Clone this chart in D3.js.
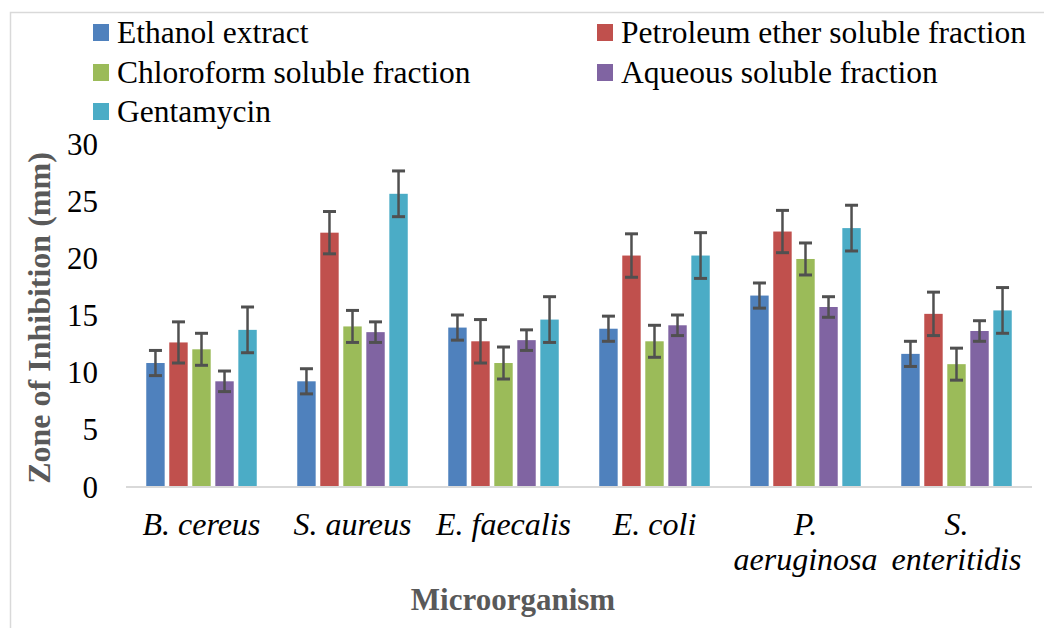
<!DOCTYPE html>
<html lang="en">
    <head>
        <meta charset="utf-8">
        <title>Zone of Inhibition</title>
        <script src="https://d3js.org/d3.v7.min.js"></script>
        <style>
            body { margin: 0; background: #fff; }
        </style>
    </head>
    <body>
        <script type="text/javascript">

            //categories (x axis), multi-line names split on "|"
            var organisms = ["B. cereus", "S. aureus", "E. faecalis", "E. coli", "P.|aeruginosa", "S.|enteritidis"];

            //series names for the legend
            var seriesNames = ["Ethanol extract", "Petroleum ether soluble fraction",
                "Chloroform soluble fraction", "Aqueous soluble fraction", "Gentamycin"];

            var seriesColors = ["#4f81bd", "#c0504d", "#9bbb59", "#8064a2", "#4bacc6"];

            //values (mm)
            var ethanol     = [10.8, 9.2, 13.9, 13.8, 16.7, 11.6];
            var petroleum   = [12.6, 22.2, 12.7, 20.2, 22.3, 15.1];
            var chloroform  = [12.0, 14.0, 10.8, 12.7, 19.9, 10.7];
            var aqueous     = [9.2, 13.5, 12.8, 14.1, 15.7, 13.6];
            var gentamycin  = [13.7, 25.6, 14.6, 20.2, 22.6, 15.4];

            //error bar half lengths
            var ethanolErr    = [1.1, 1.1, 1.1, 1.1, 1.1, 1.1];
            var petroleumErr  = [1.8, 1.85, 1.9, 1.9, 1.85, 1.9];
            var chloroformErr = [1.4, 1.4, 1.4, 1.4, 1.4, 1.4];
            var aqueousErr    = [0.9, 0.9, 0.9, 0.9, 0.9, 0.9];
            var gentamycinErr = [2.0, 2.0, 2.0, 2.0, 2.0, 2.0];

            var yTicks = [0, 5, 10, 15, 20, 25, 30];

            var allValues = [ethanol, petroleum, chloroform, aqueous, gentamycin];
            var allErrors = [ethanolErr, petroleumErr, chloroformErr, aqueousErr, gentamycinErr];

            //flatten into one row per bar
            var bars = [];
            for (var s = 0; s < seriesNames.length; s++) {
                for (var c = 0; c < organisms.length; c++) {
                    bars.push({
                        series: seriesNames[s],
                        organism: organisms[c],
                        value: allValues[s][c],
                        err: allErrors[s][c],
                        color: seriesColors[s]
                    });
                }
            }

            var width = 1044, height = 628;
            var fontFam = "'Liberation Serif', 'Times New Roman', serif";

            var svg = d3.select("body")
                .append("svg")
                .attr("width", width)
                .attr("height", height);

            //chart border (only top and left visible in the picture)
            svg.append("rect")
                .attr("x", 10.5)
                .attr("y", 12.5)
                .attr("width", 1060)
                .attr("height", 640)
                .attr("fill", "none")
                .attr("stroke", "#d9d9d9")
                .attr("stroke-width", 1.5);

            //scales
            var x0 = d3.scaleBand()
                .domain(organisms)
                .range([126, 1032]);

            var x1 = d3.scaleBand()
                .domain(seriesNames)
                .range([20.25, 130.75])
                .paddingInner(0.2);

            var yScale = d3.scaleLinear()
                .domain([0, 30])
                .range([486.5, 143.5]);

            //bars
            svg.append("g")
                .selectAll("rect")
                .data(bars)
                .enter()
                .append("rect")
                .attr("x", function(d) { return x0(d.organism) + x1(d.series); })
                .attr("y", function(d) { return yScale(d.value); })
                .attr("width", x1.bandwidth())
                .attr("height", function(d) { return yScale(0) - yScale(d.value); })
                .attr("fill", function(d) { return d.color; });

            //x axis line
            svg.append("line")
                .attr("x1", x0.range()[0])
                .attr("x2", x0.range()[1])
                .attr("y1", yScale(0) + 0.5)
                .attr("y2", yScale(0) + 0.5)
                .attr("stroke", "#d9d9d9")
                .attr("stroke-width", 2);

            //error bars
            var errG = svg.append("g")
                .attr("stroke", "#505050")
                .attr("stroke-width", 2.5);

            bars.forEach(function(d) {
                var cx = x0(d.organism) + x1(d.series) + x1.bandwidth() / 2;
                var top = yScale(d.value + d.err);
                var bot = yScale(d.value - d.err);
                errG.append("line")
                    .attr("x1", cx).attr("x2", cx)
                    .attr("y1", top).attr("y2", bot);
                errG.append("line")
                    .attr("x1", cx - 6.5).attr("x2", cx + 6.5)
                    .attr("y1", top).attr("y2", top)
                    .attr("stroke-width", 3);
                errG.append("line")
                    .attr("x1", cx - 6.5).attr("x2", cx + 6.5)
                    .attr("y1", bot).attr("y2", bot)
                    .attr("stroke-width", 3);
            });

            //y axis labels (no axis line or ticks in the picture)
            var yAxis = svg.append("g")
                .attr("transform", "translate(98,0)")
                .call(d3.axisLeft(yScale).tickValues(yTicks).tickSize(0).tickPadding(0));
            yAxis.select(".domain").remove();
            yAxis.selectAll("text")
                .attr("font-family", fontFam)
                .attr("font-size", "31px")
                .attr("fill", "#000")
                .attr("dy", "0.34em");

            //x axis labels, italic, can wrap to two lines
            var xLabels = svg.append("g")
                .selectAll("text")
                .data(organisms)
                .enter()
                .append("text")
                .attr("x", function(d) { return x0(d) + x0.bandwidth() / 2; })
                .attr("y", 535)
                .attr("text-anchor", "middle")
                .attr("font-family", fontFam)
                .attr("font-style", "italic")
                .attr("font-size", "32px")
                .attr("fill", "#000");

            xLabels.each(function(d) {
                var parts = d.split("|");
                var el = d3.select(this);
                parts.forEach(function(p, i) {
                    el.append("tspan")
                        .attr("x", x0(d) + x0.bandwidth() / 2)
                        .attr("dy", i == 0 ? 0 : 35)
                        .text(p);
                });
            });

            //axis titles
            svg.append("text")
                .text("Microorganism")
                .attr("x", 513)
                .attr("y", 610)
                .attr("text-anchor", "middle")
                .attr("font-family", fontFam)
                .attr("font-weight", "bold")
                .attr("font-size", "31px")
                .attr("fill", "#595959");

            svg.append("text")
                .text("Zone of Inhibition (mm)")
                .attr("transform", "translate(50,318) rotate(-90)")
                .attr("text-anchor", "middle")
                .attr("font-family", fontFam)
                .attr("font-weight", "bold")
                .attr("font-size", "32px")
                .attr("fill", "#595959");

            //legend, two columns
            var legendX = [93, 597];
            var legendY = [43, 83, 122];

            var legend = svg.append("g")
                .selectAll("g")
                .data(seriesNames)
                .enter()
                .append("g")
                .attr("transform", function(d, i) {
                    return "translate(" + legendX[i % 2] + "," + legendY[Math.floor(i / 2)] + ")";
                });

            legend.append("rect")
                .attr("x", 0)
                .attr("y", -19)
                .attr("width", 16)
                .attr("height", 17)
                .attr("fill", function(d, i) { return seriesColors[i]; });

            legend.append("text")
                .text(function(d) { return d; })
                .attr("x", 24)
                .attr("y", 0)
                .attr("font-family", fontFam)
                .attr("font-size", "31.5px")
                .attr("fill", "#000");

        </script>
    </body>
</html>
